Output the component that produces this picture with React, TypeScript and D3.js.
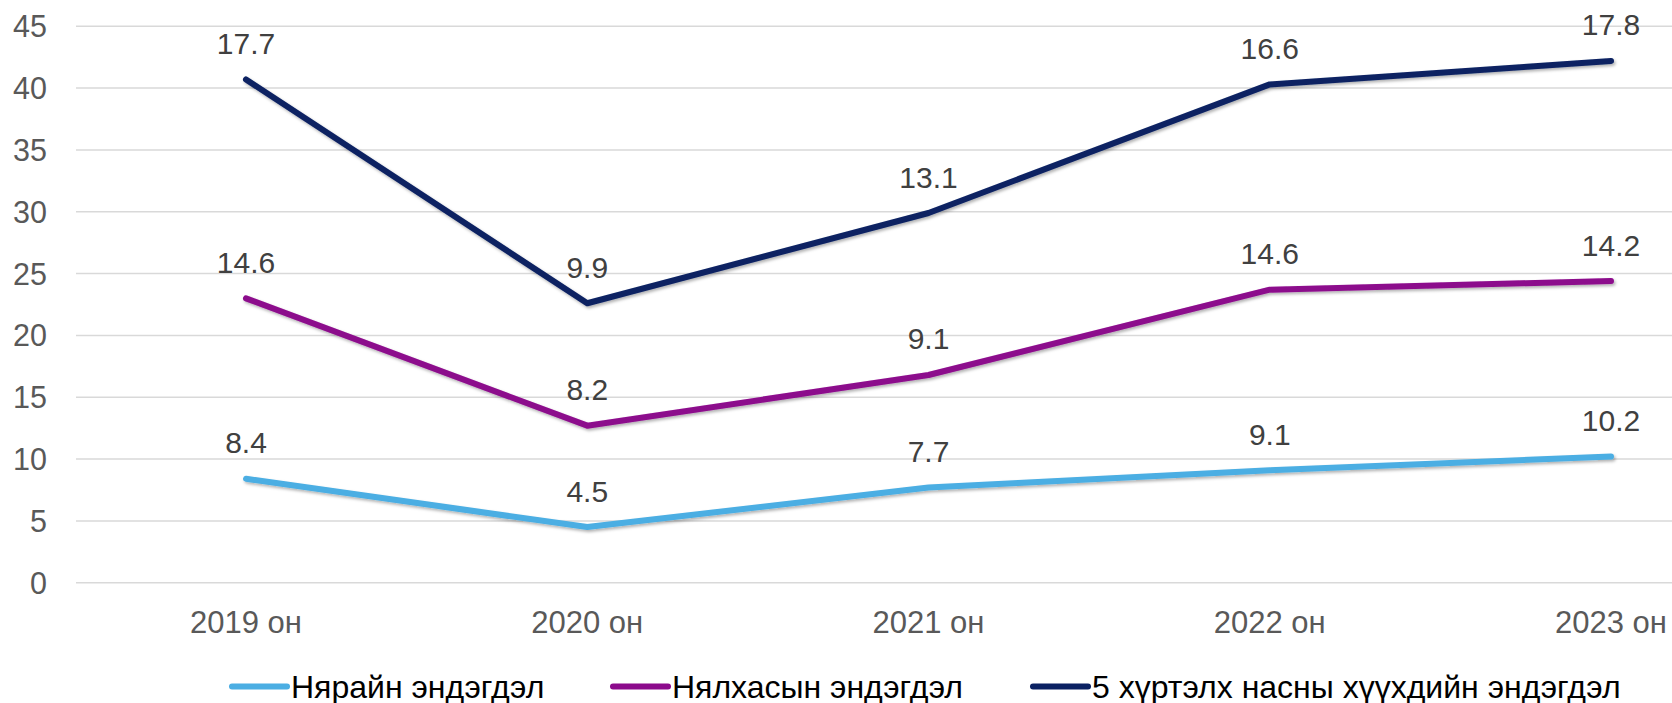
import React from "react";
import * as d3 from "d3";

const categories = ["2019 он", "2020 он", "2021 он", "2022 он", "2023 он"];
const seriesNames = [
  "Нярайн эндэгдэл",
  "Нялхасын эндэгдэл",
  "5 хүртэлх насны хүүхдийн эндэгдэл",
];
const neonatal = [8.4, 4.5, 7.7, 9.1, 10.2];
const infant = [14.6, 8.2, 9.1, 14.6, 14.2];
const under5 = [17.7, 9.9, 13.1, 16.6, 17.8];
const colors = ["#4BAEE3", "#8C0A8C", "#0A2162"];
const yTicks = [0, 5, 10, 15, 20, 25, 30, 35, 40, 45];

const W = 1672;
const H = 703;

export default function App() {
  const rows = categories.map((c, i) => ({
    cat: c,
    s0: neonatal[i],
    s1: infant[i],
    s2: under5[i],
  }));
  const stack = d3.stack<any>().keys(["s0", "s1", "s2"]);
  const stacked = stack(rows);

  const x = d3.scalePoint<string>().domain(categories).range([246, 1611]);
  const y = d3.scaleLinear().domain([0, 45]).range([582.7, 26.3]);
  const line = d3
    .line<any>()
    .x((d) => x(d.data.cat) as number)
    .y((d) => y(d[1]));

  const font = "Arial, 'Liberation Sans', sans-serif";
  const legendItems = [
    { mx1: 232, mx2: 287, tx: 291 },
    { mx1: 613, mx2: 668, tx: 672 },
    { mx1: 1033, mx2: 1088, tx: 1092 },
  ];

  return (
    <svg
      width={W}
      height={H}
      style={{ position: "absolute", left: 0, top: 0, background: "#fff" }}
    >
      <defs>
        <filter id="sh" x="-5%" y="-20%" width="110%" height="140%">
          <feDropShadow dx="1.5" dy="2" stdDeviation="1.5" floodColor="#000" floodOpacity="0.3" />
        </filter>
      </defs>
      {yTicks.map((t) => (
        <g key={t}>
          <line x1={76} x2={W} y1={y(t)} y2={y(t)} stroke="#d9d9d9" strokeWidth={1.5} />
          <text
            x={47}
            y={y(t) + 11}
            textAnchor="end"
            fontFamily={font}
            fontSize={30.5}
            fill="#595959"
          >
            {t}
          </text>
        </g>
      ))}
      {categories.map((c) => (
        <text
          key={c}
          x={x(c)}
          y={632.5}
          textAnchor="middle"
          fontFamily={font}
          fontSize={31}
          fill="#595959"
        >
          {c}
        </text>
      ))}
      {stacked.map((s, si) => (
        <path
          key={si}
          d={line(s as any) || ""}
          fill="none"
          stroke={colors[si]}
          strokeWidth={6}
          strokeLinejoin="round"
          strokeLinecap="round"
          filter="url(#sh)"
        />
      ))}
      {stacked.map((s, si) =>
        s.map((d: any, i: number) => (
          <text
            key={si + "-" + i}
            x={x(d.data.cat)}
            y={y(d[1]) - 25.5}
            textAnchor="middle"
            fontFamily={font}
            fontSize={30}
            fill="#404040"
          >
            {(d[1] - d[0]).toFixed(1)}
          </text>
        ))
      )}
      {seriesNames.map((n, i) => (
        <g key={n}>
          <line
            x1={legendItems[i].mx1}
            x2={legendItems[i].mx2}
            y1={686.5}
            y2={686.5}
            stroke={colors[i]}
            strokeWidth={6}
            strokeLinecap="round"
          />
          <text
            x={legendItems[i].tx}
            y={697.5}
            fontFamily={font}
            fontSize={32}
            fill="#000"
          >
            {n}
          </text>
        </g>
      ))}
    </svg>
  );
}
